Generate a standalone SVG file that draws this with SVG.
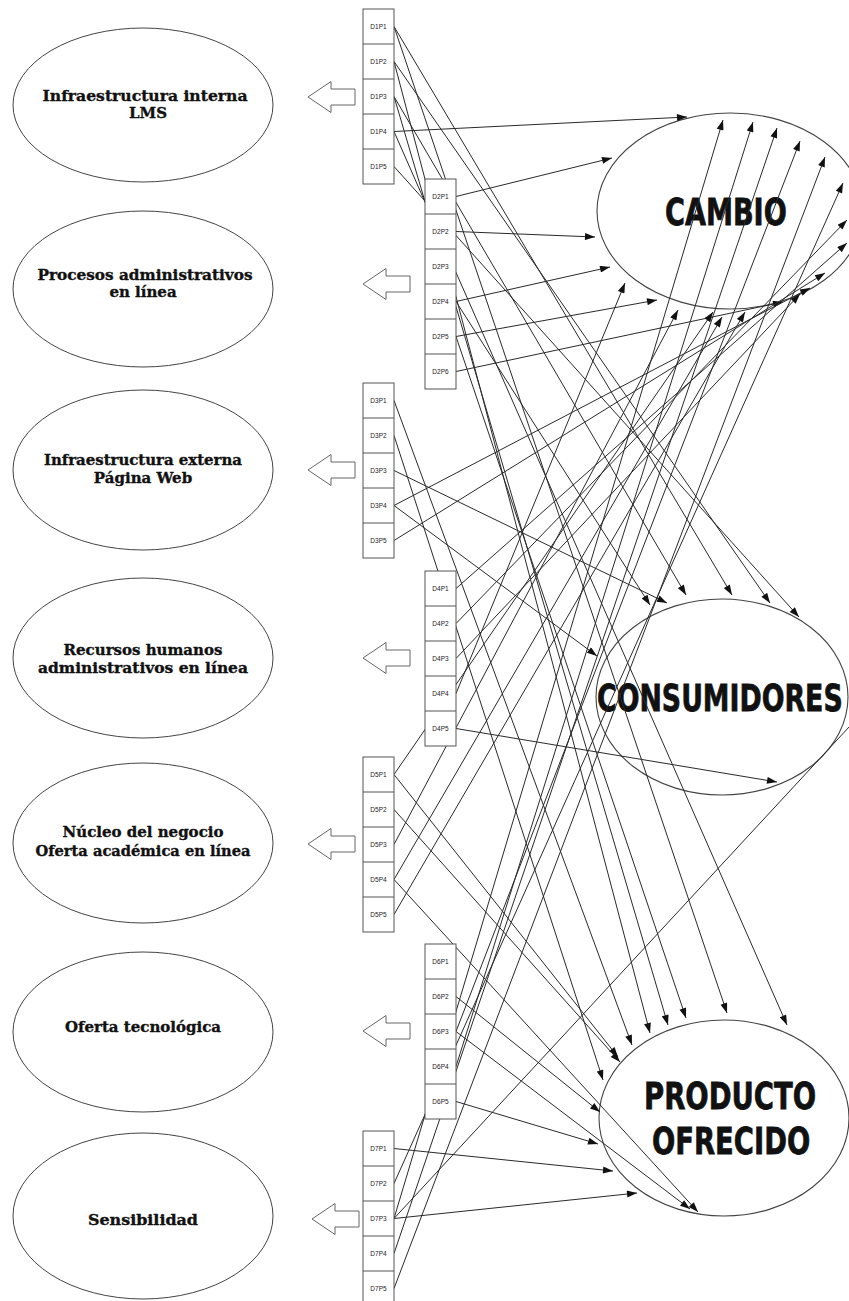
<svg xmlns="http://www.w3.org/2000/svg" width="849" height="1301" viewBox="0 0 849 1301">
<style>
.bg{fill:#fff}
.ell{fill:#fff;stroke:#444;stroke-width:1}
.big{fill:none;stroke:#444;stroke-width:1.1}
.box{fill:#fff;stroke:#555;stroke-width:1}
.lbl{font-family:"Liberation Sans",Arial,sans-serif;font-size:6.5px;fill:#222;text-anchor:middle}
.ltx{font-family:"DejaVu Serif","Liberation Serif",serif;font-weight:bold;font-size:15px;fill:#111;stroke:#111;stroke-width:0.35;text-anchor:middle}
.btx{font-family:"DejaVu Sans","Liberation Sans",sans-serif;font-weight:bold;font-size:38px;fill:#111;stroke:#111;stroke-width:0.8}
.hol{fill:#fff;stroke:#666;stroke-width:1}
.cn line{stroke:#2a2a2a;stroke-width:1;marker-end:url(#ah)}
</style>
<defs>
<marker id="ah" viewBox="0 0 10 7" refX="10" refY="3.5" markerWidth="11" markerHeight="7" markerUnits="userSpaceOnUse" orient="auto"><path d="M0,0 L10,3.5 L0,7 Z" fill="#111"/></marker>
</defs>
<rect class="bg" x="0" y="0" width="849" height="1301"/>

<!-- left ellipses -->
<g id="n-infra-interna"><ellipse class="ell" cx="143" cy="105" rx="130" ry="77"/><text class="ltx" x="145" y="101" textLength="205" lengthAdjust="spacingAndGlyphs">Infraestructura interna</text><text class="ltx" x="148" y="118">LMS</text></g>
<g id="n-procesos"><ellipse class="ell" cx="143" cy="289" rx="130" ry="78"/><text class="ltx" x="145" y="280" textLength="215" lengthAdjust="spacingAndGlyphs">Procesos administrativos</text><text class="ltx" x="143" y="297">en línea</text></g>
<g id="n-infra-externa"><ellipse class="ell" cx="143" cy="470" rx="130" ry="80"/><text class="ltx" x="143" y="465" textLength="198" lengthAdjust="spacingAndGlyphs">Infraestructura externa</text><text class="ltx" x="143" y="483">Página Web</text></g>
<g id="n-recursos"><ellipse class="ell" cx="143" cy="658" rx="130" ry="80"/><text class="ltx" x="143" y="655">Recursos humanos</text><text class="ltx" x="143" y="673" textLength="210" lengthAdjust="spacingAndGlyphs">administrativos en línea</text></g>
<g id="n-nucleo"><ellipse class="ell" cx="143" cy="843" rx="130" ry="80"/><text class="ltx" x="143" y="837">Núcleo del negocio</text><text class="ltx" x="143" y="856" textLength="215" lengthAdjust="spacingAndGlyphs">Oferta académica en línea</text></g>
<g id="n-oferta-tec"><ellipse class="ell" cx="143" cy="1032" rx="130" ry="80"/><text class="ltx" x="143" y="1032">Oferta tecnológica</text></g>
<g id="n-sensibilidad"><ellipse class="ell" cx="143" cy="1216" rx="130" ry="83"/><text class="ltx" x="143" y="1225" textLength="110" lengthAdjust="spacingAndGlyphs">Sensibilidad</text></g>

<!-- hollow arrows -->
<g id="hollow-arrows">
<polygon class="hol" points="308,97 331,81.5 331,89 355,89 355,105 331,105 331,112.5"/>
<polygon class="hol" points="363,284 386,268.5 386,276 410,276 410,292 386,292 386,299.5"/>
<polygon class="hol" points="308,470 331,454.5 331,462 355,462 355,478 331,478 331,485.5"/>
<polygon class="hol" points="363,658 386,642.5 386,650 410,650 410,666 386,666 386,673.5"/>
<polygon class="hol" points="308,844 331,828.5 331,836 355,836 355,852 331,852 331,859.5"/>
<polygon class="hol" points="363,1031 386,1015.5 386,1023 410,1023 410,1039 386,1039 386,1046.5"/>
<polygon class="hol" points="312,1219 335,1203.5 335,1211 359,1211 359,1227 335,1227 335,1234.5"/>
</g>

<!-- big ellipses -->
<g id="n-cambio"><ellipse class="big" cx="730" cy="211" rx="133" ry="98"/><text class="btx" transform="matrix(0.7 0 0 1 665 225)" x="0" y="0" textLength="174" lengthAdjust="spacingAndGlyphs">CAMBIO</text></g>
<g id="n-consumidores"><ellipse class="big" cx="722" cy="697" rx="126" ry="98"/><text class="btx" transform="matrix(0.7 0 0 1 597 711)" x="0" y="0" textLength="351" lengthAdjust="spacingAndGlyphs">CONSUMIDORES</text></g>
<g id="n-producto"><ellipse class="big" cx="724" cy="1118" rx="125" ry="98"/><text class="btx" transform="matrix(0.7 0 0 1 644 1109)" x="0" y="0" textLength="246" lengthAdjust="spacingAndGlyphs">PRODUCTO</text><text class="btx" transform="matrix(0.7 0 0 1 652 1154)" x="0" y="0" textLength="226" lengthAdjust="spacingAndGlyphs">OFRECIDO</text></g>

<!-- connectors -->
<g id="connectors" class="cn">
<line x1="394" y1="131.5" x2="687" y2="117"/>
<line x1="456" y1="196.5" x2="612" y2="158"/>
<line x1="456" y1="231.5" x2="595" y2="237"/>
<line x1="456" y1="301.5" x2="610" y2="267"/>
<line x1="456" y1="336.5" x2="657" y2="300"/>
<line x1="456" y1="371.5" x2="783" y2="302"/>
<line x1="394" y1="505.5" x2="810" y2="288"/>
<line x1="394" y1="540.5" x2="825" y2="273"/>
<line x1="456" y1="588.5" x2="847" y2="243"/>
<line x1="456" y1="623.5" x2="847" y2="220"/>
<line x1="456" y1="658.5" x2="800" y2="294"/>
<line x1="456" y1="693.5" x2="625" y2="283"/>
<line x1="394" y1="774.5" x2="713" y2="312"/>
<line x1="394" y1="844.5" x2="678" y2="310"/>
<line x1="394" y1="879.5" x2="722" y2="317"/>
<line x1="394" y1="914.5" x2="745" y2="312"/>
<line x1="456" y1="1031.5" x2="800" y2="141"/>
<line x1="456" y1="1066.5" x2="753" y2="122"/>
<line x1="394" y1="1183.5" x2="843" y2="183"/>
<line x1="394" y1="1218.5" x2="723" y2="120"/>
<line x1="394" y1="1253.5" x2="777" y2="128"/>
<line x1="394" y1="1288.5" x2="825" y2="157"/>
<line x1="394" y1="1218.5" x2="862" y2="713"/>

<line x1="456" y1="301.5" x2="650" y2="605"/>
<line x1="394" y1="470.5" x2="667" y2="603"/>
<line x1="394" y1="96.5" x2="686" y2="595"/>
<line x1="394" y1="26.5" x2="732" y2="595"/>
<line x1="394" y1="61.5" x2="770" y2="603"/>
<line x1="394" y1="166.5" x2="799" y2="617"/>
<line x1="394" y1="505.5" x2="597" y2="656"/>
<line x1="456" y1="728.5" x2="777" y2="782"/>

<line x1="394" y1="400.5" x2="632" y2="1045"/>
<line x1="394" y1="61.5" x2="650" y2="1033"/>
<line x1="394" y1="96.5" x2="668" y2="1025"/>
<line x1="456" y1="336.5" x2="686" y2="1018"/>
<line x1="394" y1="26.5" x2="727" y2="1013"/>
<line x1="394" y1="131.5" x2="787" y2="1025"/>
<line x1="394" y1="774.5" x2="618" y2="1057"/>
<line x1="394" y1="809.5" x2="620" y2="1062"/>
<line x1="394" y1="435.5" x2="603" y2="1080"/>
<line x1="456" y1="996.5" x2="600" y2="1112"/>
<line x1="456" y1="1101.5" x2="598" y2="1144"/>
<line x1="394" y1="1148.5" x2="613" y2="1171"/>
<line x1="394" y1="1218.5" x2="637" y2="1193"/>
<line x1="394" y1="879.5" x2="698" y2="1212"/>
<line x1="456" y1="1031.5" x2="690" y2="1209"/>
</g>

<!-- D boxes -->
<g id="d1"><rect class="box" x="363" y="9" width="31" height="175"/><path d="M363,44H394M363,79H394M363,114H394M363,149H394" stroke="#555"/><text class="lbl" x="378.5" y="29">D1P1</text><text class="lbl" x="378.5" y="64">D1P2</text><text class="lbl" x="378.5" y="99">D1P3</text><text class="lbl" x="378.5" y="134">D1P4</text><text class="lbl" x="378.5" y="169">D1P5</text></g>
<g id="d2"><rect class="box" x="425" y="179" width="31" height="210"/><path d="M425,214H456M425,249H456M425,284H456M425,319H456M425,354H456" stroke="#555"/><text class="lbl" x="440.5" y="199">D2P1</text><text class="lbl" x="440.5" y="234">D2P2</text><text class="lbl" x="440.5" y="269">D2P3</text><text class="lbl" x="440.5" y="304">D2P4</text><text class="lbl" x="440.5" y="339">D2P5</text><text class="lbl" x="440.5" y="374">D2P6</text></g>
<g id="d3"><rect class="box" x="363" y="383" width="31" height="175"/><path d="M363,418H394M363,453H394M363,488H394M363,523H394" stroke="#555"/><text class="lbl" x="378.5" y="403">D3P1</text><text class="lbl" x="378.5" y="438">D3P2</text><text class="lbl" x="378.5" y="473">D3P3</text><text class="lbl" x="378.5" y="508">D3P4</text><text class="lbl" x="378.5" y="543">D3P5</text></g>
<g id="d4"><rect class="box" x="425" y="571" width="31" height="175"/><path d="M425,606H456M425,641H456M425,676H456M425,711H456" stroke="#555"/><text class="lbl" x="440.5" y="591">D4P1</text><text class="lbl" x="440.5" y="626">D4P2</text><text class="lbl" x="440.5" y="661">D4P3</text><text class="lbl" x="440.5" y="696">D4P4</text><text class="lbl" x="440.5" y="731">D4P5</text></g>
<g id="d5"><rect class="box" x="363" y="757" width="31" height="175"/><path d="M363,792H394M363,827H394M363,862H394M363,897H394" stroke="#555"/><text class="lbl" x="378.5" y="777">D5P1</text><text class="lbl" x="378.5" y="812">D5P2</text><text class="lbl" x="378.5" y="847">D5P3</text><text class="lbl" x="378.5" y="882">D5P4</text><text class="lbl" x="378.5" y="917">D5P5</text></g>
<g id="d6"><rect class="box" x="425" y="944" width="31" height="175"/><path d="M425,979H456M425,1014H456M425,1049H456M425,1084H456" stroke="#555"/><text class="lbl" x="440.5" y="964">D6P1</text><text class="lbl" x="440.5" y="999">D6P2</text><text class="lbl" x="440.5" y="1034">D6P3</text><text class="lbl" x="440.5" y="1069">D6P4</text><text class="lbl" x="440.5" y="1104">D6P5</text></g>
<g id="d7"><rect class="box" x="363" y="1131" width="31" height="175"/><path d="M363,1166H394M363,1201H394M363,1236H394M363,1271H394" stroke="#555"/><text class="lbl" x="378.5" y="1151">D7P1</text><text class="lbl" x="378.5" y="1186">D7P2</text><text class="lbl" x="378.5" y="1221">D7P3</text><text class="lbl" x="378.5" y="1256">D7P4</text><text class="lbl" x="378.5" y="1291">D7P5</text></g>
</svg>
